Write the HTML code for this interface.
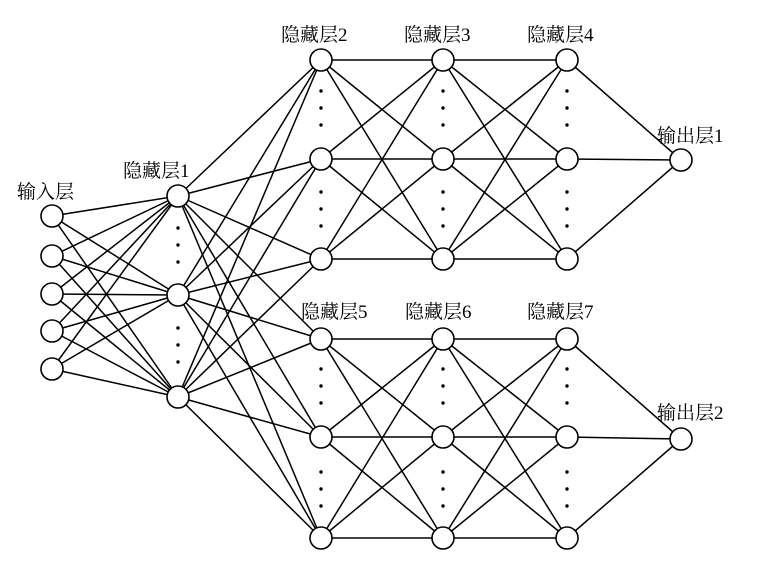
<!DOCTYPE html>
<html><head><meta charset="utf-8"><style>
html,body{margin:0;padding:0;background:#fff}
svg text{font-family:"Liberation Serif","Noto Serif CJK SC","Noto Sans CJK SC",serif;font-size:19px;fill:#000}
</style></head><body>
<svg id="s" width="778" height="574" viewBox="0 0 778 574" xmlns="http://www.w3.org/2000/svg">
<g id="L" stroke="#000" stroke-width="1.5" fill="none"></g>
<g id="N" stroke="#000" stroke-width="1.6" fill="#fff"></g>
<g id="D" fill="#000"></g>
<text x="17" y="198">输入层</text>
<text x="123" y="177">隐藏层1</text>
<text x="281" y="41">隐藏层2</text>
<text x="404" y="41">隐藏层3</text>
<text x="527" y="41">隐藏层4</text>
<text x="657" y="142">输出层1</text>
<text x="301" y="318">隐藏层5</text>
<text x="405" y="318">隐藏层6</text>
<text x="527" y="318">隐藏层7</text>
<text x="657" y="419">输出层2</text>
</svg>
<script>
var ns="http://www.w3.org/2000/svg";
var I=[[52,216],[52,256],[52,294],[52,331],[52,369]];
var H1=[[178,196],[178,295],[178,397]];
function col(x,ys){return ys.map(function(y){return [x,y]})}
var T=[60,159,259],B=[339,437,538];
var H2=col(321,T),H3=col(443,T),H4=col(567,T),O1=[[681,160]];
var H5=col(321,B),H6=col(443,B),H7=col(567,B),O2=[[681,439]];
var L=document.getElementById('L'),N=document.getElementById('N'),D=document.getElementById('D');
function conn(a,b){a.forEach(function(p){b.forEach(function(q){var l=document.createElementNS(ns,'line');l.setAttribute('x1',p[0]);l.setAttribute('y1',p[1]);l.setAttribute('x2',q[0]);l.setAttribute('y2',q[1]);L.appendChild(l);});});}
conn(I,H1);conn(H1,H2);conn(H1,H5);conn(H2,H3);conn(H3,H4);conn(H4,O1);conn(H5,H6);conn(H6,H7);conn(H7,O2);
function nodes(a){a.forEach(function(p){var c=document.createElementNS(ns,'circle');c.setAttribute('cx',p[0]);c.setAttribute('cy',p[1]);c.setAttribute('r',11);N.appendChild(c);});}
[I,H1,H2,H3,H4,O1,H5,H6,H7,O2].forEach(nodes);
function dots(x,ys){ys.forEach(function(y){var c=document.createElementNS(ns,'circle');c.setAttribute('cx',x);c.setAttribute('cy',y);c.setAttribute('r',1.7);D.appendChild(c);});}
dots(178,[228,245,262]);dots(178,[328,345,362]);
[321,443,567].forEach(function(x){dots(x,[91,108,125]);dots(x,[192,209,226]);dots(x,[369,386,403]);dots(x,[472,489,506]);});
</script>
</body></html>
